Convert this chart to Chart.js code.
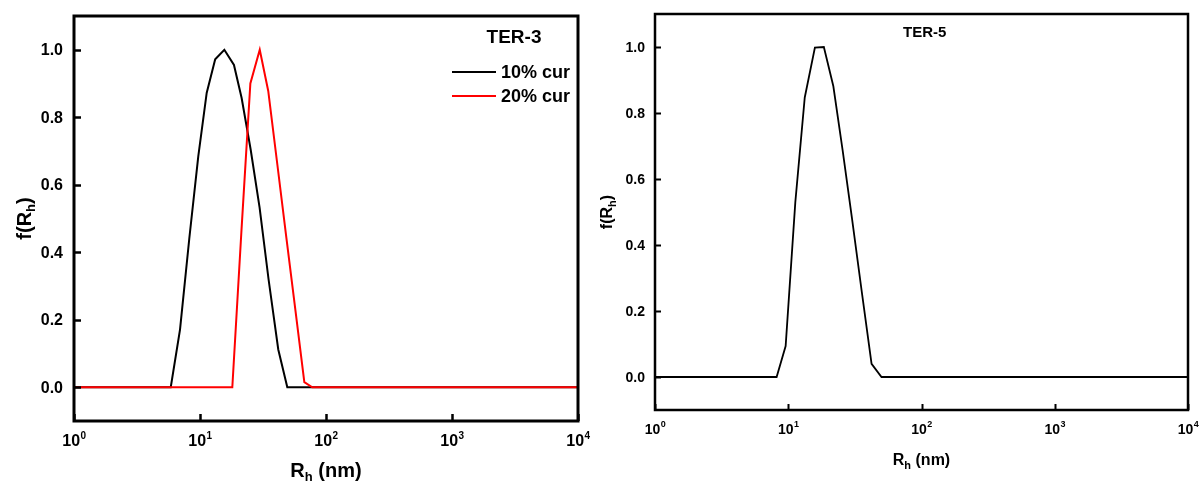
<!DOCTYPE html>
<html lang="en">

<head>
  <meta charset="UTF-8">
  <title>f(Rh) distributions</title>
  <script src="https://cdn.jsdelivr.net/npm/chart.js"></script>
  <style>
    html, body { margin: 0; padding: 0; background: #fff; }
    .wrap { position: relative; width: 1200px; height: 483px; overflow: hidden; }
    .wrap canvas { position: absolute; top: 0; }
    #ter3Chart { left: 0; }
    #ter5Chart { left: 600px; }
  </style>
</head>

<body>
  <div class="wrap">
    <canvas id="ter3Chart" width="600" height="483"></canvas>
    <canvas id="ter5Chart" width="600" height="483"></canvas>
  </div>

  <script>
    // tick marks on both panels
    const xTickValues = [1, 10, 100, 1000, 10000];
    const xTickExps = ["0", "1", "2", "3", "4"];
    const yTickValues = [0, 0.2, 0.4, 0.6, 0.8, 1.0];

    // TER-3, 10% cur
    const ter3X10 = [1, 5.86, 6.94, 8.22, 9.69, 11.3, 13.2, 15.6, 18.6, 21.4, 25.2, 29.7, 35.0, 41.8, 49.3, 10000];
    const ter3Y10 = [0, 0, 0.171, 0.44, 0.684, 0.872, 0.972, 1.0, 0.955, 0.857, 0.706, 0.533, 0.32, 0.112, 0, 0];

    // TER-3, 20% cur
    const ter3X20 = [1, 18.05, 21.3, 25.1, 29.8, 34.8, 41.1, 48.4, 57.1, 67.3, 77.8, 10000];
    const ter3Y20 = [0, 0, 0.46, 0.90, 1.0, 0.878, 0.66, 0.445, 0.23, 0.015, 0, 0];

    // TER-5
    const ter5X = [1, 8.18, 9.56, 11.3, 13.3, 15.85, 18.5, 21.8, 25.6, 30.1, 35.7, 42.2, 50.1, 10000];
    const ter5Y = [0, 0, 0.094, 0.53, 0.847, 0.998, 1.0, 0.881, 0.687, 0.48, 0.256, 0.04, 0, 0];

    const FONT = "'Liberation Sans', Arial, sans-serif";

    function toPoints(xs, ys) {
      return xs.map((x, i) => ({ x: x, y: ys[i] }));
    }

    // "R" + subscript "h" + rest, drawn from a center point
    function subText(ctx, base, sub, rest, cx, cy, size) {
      const subSize = Math.round(size * 0.66);
      ctx.font = "bold " + size + "px " + FONT;
      const wb = ctx.measureText(base).width;
      const wr = ctx.measureText(rest).width;
      ctx.font = "bold " + subSize + "px " + FONT;
      const ws = ctx.measureText(sub).width;
      let x = cx - (wb + ws + wr) / 2;
      ctx.textBaseline = "middle";
      ctx.textAlign = "left";
      ctx.font = "bold " + size + "px " + FONT;
      ctx.fillText(base, x, cy);
      x += wb;
      ctx.font = "bold " + subSize + "px " + FONT;
      ctx.fillText(sub, x, cy + size * 0.32);
      x += ws;
      ctx.font = "bold " + size + "px " + FONT;
      ctx.fillText(rest, x, cy);
    }

    const panelDecor = {
      id: "panelDecor",
      afterDraw(chart, args, o) {
        const ctx = chart.ctx;
        const a = chart.chartArea;
        const xs = chart.scales.x, ys = chart.scales.y;
        ctx.save();
        ctx.fillStyle = "#000";
        ctx.strokeStyle = "#000";

        // inward ticks
        ctx.lineWidth = o.tickWidth;
        ctx.beginPath();
        xTickValues.forEach(v => {
          const px = Math.round(xs.getPixelForValue(v)) + 0.5;
          ctx.moveTo(px, a.bottom);
          ctx.lineTo(px, a.bottom - o.tickLen);
        });
        yTickValues.forEach(v => {
          const py = Math.round(ys.getPixelForValue(v)) + 0.5;
          ctx.moveTo(a.left, py);
          ctx.lineTo(a.left + o.tickLen, py);
        });
        ctx.stroke();

        // frame
        ctx.lineWidth = o.frameWidth;
        ctx.strokeRect(a.left, a.top, a.right - a.left, a.bottom - a.top);

        // y tick labels
        ctx.font = "bold " + o.tickFont + "px " + FONT;
        ctx.textAlign = "right";
        ctx.textBaseline = "middle";
        yTickValues.forEach(v => {
          ctx.fillText(v.toFixed(1), a.left - o.yPad, ys.getPixelForValue(v) + 1);
        });

        // x tick labels: 10^n
        const supSize = Math.round(o.tickFont * 0.62);
        xTickValues.forEach((v, i) => {
          const px = xs.getPixelForValue(v);
          ctx.font = "bold " + o.tickFont + "px " + FONT;
          const w10 = ctx.measureText("10").width;
          ctx.font = "bold " + supSize + "px " + FONT;
          const ws = ctx.measureText(xTickExps[i]).width;
          const x0 = px - (w10 + ws) / 2;
          const ty = a.bottom + o.xLabelGap;
          ctx.textAlign = "left";
          ctx.textBaseline = "middle";
          ctx.font = "bold " + o.tickFont + "px " + FONT;
          ctx.fillText("10", x0, ty);
          ctx.font = "bold " + supSize + "px " + FONT;
          ctx.fillText(xTickExps[i], x0 + w10 + 0.5, ty - o.tickFont * 0.38);
        });

        // axis titles
        subText(ctx, "R", "h", " (nm)", (a.left + a.right) / 2, a.bottom + o.xTitleGap, o.titleFont);
        ctx.save();
        ctx.translate(o.yTitleX, (a.top + a.bottom) / 2);
        ctx.rotate(-Math.PI / 2);
        subText(ctx, "f(R", "h", ")", 0, 0, o.titleFont);
        ctx.restore();

        // panel label
        ctx.font = "bold " + o.label.size + "px " + FONT;
        ctx.textAlign = o.label.align;
        ctx.textBaseline = "middle";
        ctx.fillText(o.label.text, o.label.fromRight ? a.right - o.label.dx : a.left + o.label.dx, a.top + o.label.dy);

        // legend
        if (o.legend) {
          chart.data.datasets.forEach((ds, i) => {
            const ly = a.top + o.legend.dy + i * o.legend.step;
            ctx.strokeStyle = ds.borderColor;
            ctx.lineWidth = 2;
            ctx.beginPath();
            ctx.moveTo(a.right - o.legend.lineFrom, ly);
            ctx.lineTo(a.right - o.legend.lineTo, ly);
            ctx.stroke();
            ctx.font = "bold " + o.legend.size + "px " + FONT;
            ctx.textAlign = "left";
            ctx.textBaseline = "middle";
            ctx.fillText(ds.label, a.right - o.legend.textAt, ly + 1);
          });
        }
        ctx.restore();
      }
    };

    function makePanel(id, datasets, dims, decor) {
      return new Chart(document.getElementById(id), {
        type: "line",
        data: { datasets: datasets },
        plugins: [panelDecor],
        options: {
          responsive: false,
          animation: false,
          devicePixelRatio: 1,
          layout: { padding: { top: dims.top, right: dims.right, left: 0, bottom: 0 } },
          plugins: { legend: { display: false }, tooltip: { enabled: false }, panelDecor: decor },
          elements: { point: { radius: 0 }, line: { tension: 0 } },
          scales: {
            x: {
              type: "logarithmic",
              min: 1,
              max: 10000,
              afterBuildTicks: s => { s.ticks = xTickValues.map(v => ({ value: v })); },
              ticks: { display: false },
              grid: { display: false, drawTicks: false },
              border: { display: false },
              afterFit: s => { s.height = dims.xAxisH; }
            },
            y: {
              type: "linear",
              min: -0.1,
              max: 1.1,
              afterBuildTicks: s => { s.ticks = yTickValues.map(v => ({ value: v })); },
              ticks: { display: false },
              grid: { display: false, drawTicks: false },
              border: { display: false },
              afterFit: s => { s.width = dims.yAxisW; }
            }
          }
        }
      });
    }

    // left panel: TER-3
    makePanel("ter3Chart", [
      { label: "10% cur", data: toPoints(ter3X10, ter3Y10), borderColor: "#000000", borderWidth: 2, order: 2 },
      { label: "20% cur", data: toPoints(ter3X20, ter3Y20), borderColor: "#ff0000", borderWidth: 2, order: 1 }
    ], { top: 16, right: 22, xAxisH: 62, yAxisW: 74 }, {
      tickLen: 7, tickWidth: 2.5, frameWidth: 3, tickFont: 16, titleFont: 20, yPad: 11,
      xLabelGap: 21, xTitleGap: 50, yTitleX: 25,
      label: { text: "TER-3", size: 19, align: "center", fromRight: true, dx: 64, dy: 22 },
      legend: { dy: 56, step: 24, lineFrom: 126, lineTo: 82, textAt: 77, size: 18 }
    });

    // right panel: TER-5
    makePanel("ter5Chart", [
      { label: "TER-5", data: toPoints(ter5X, ter5Y), borderColor: "#000000", borderWidth: 1.8 }
    ], { top: 14, right: 12, xAxisH: 73, yAxisW: 55 }, {
      tickLen: 6, tickWidth: 2, frameWidth: 2.5, tickFont: 14, titleFont: 16, yPad: 10,
      xLabelGap: 20, xTitleGap: 51, yTitleX: 8,
      label: { text: "TER-5", size: 15, align: "left", fromRight: false, dx: 248, dy: 19 },
      legend: null
    });
  </script>
</body>

</html>
